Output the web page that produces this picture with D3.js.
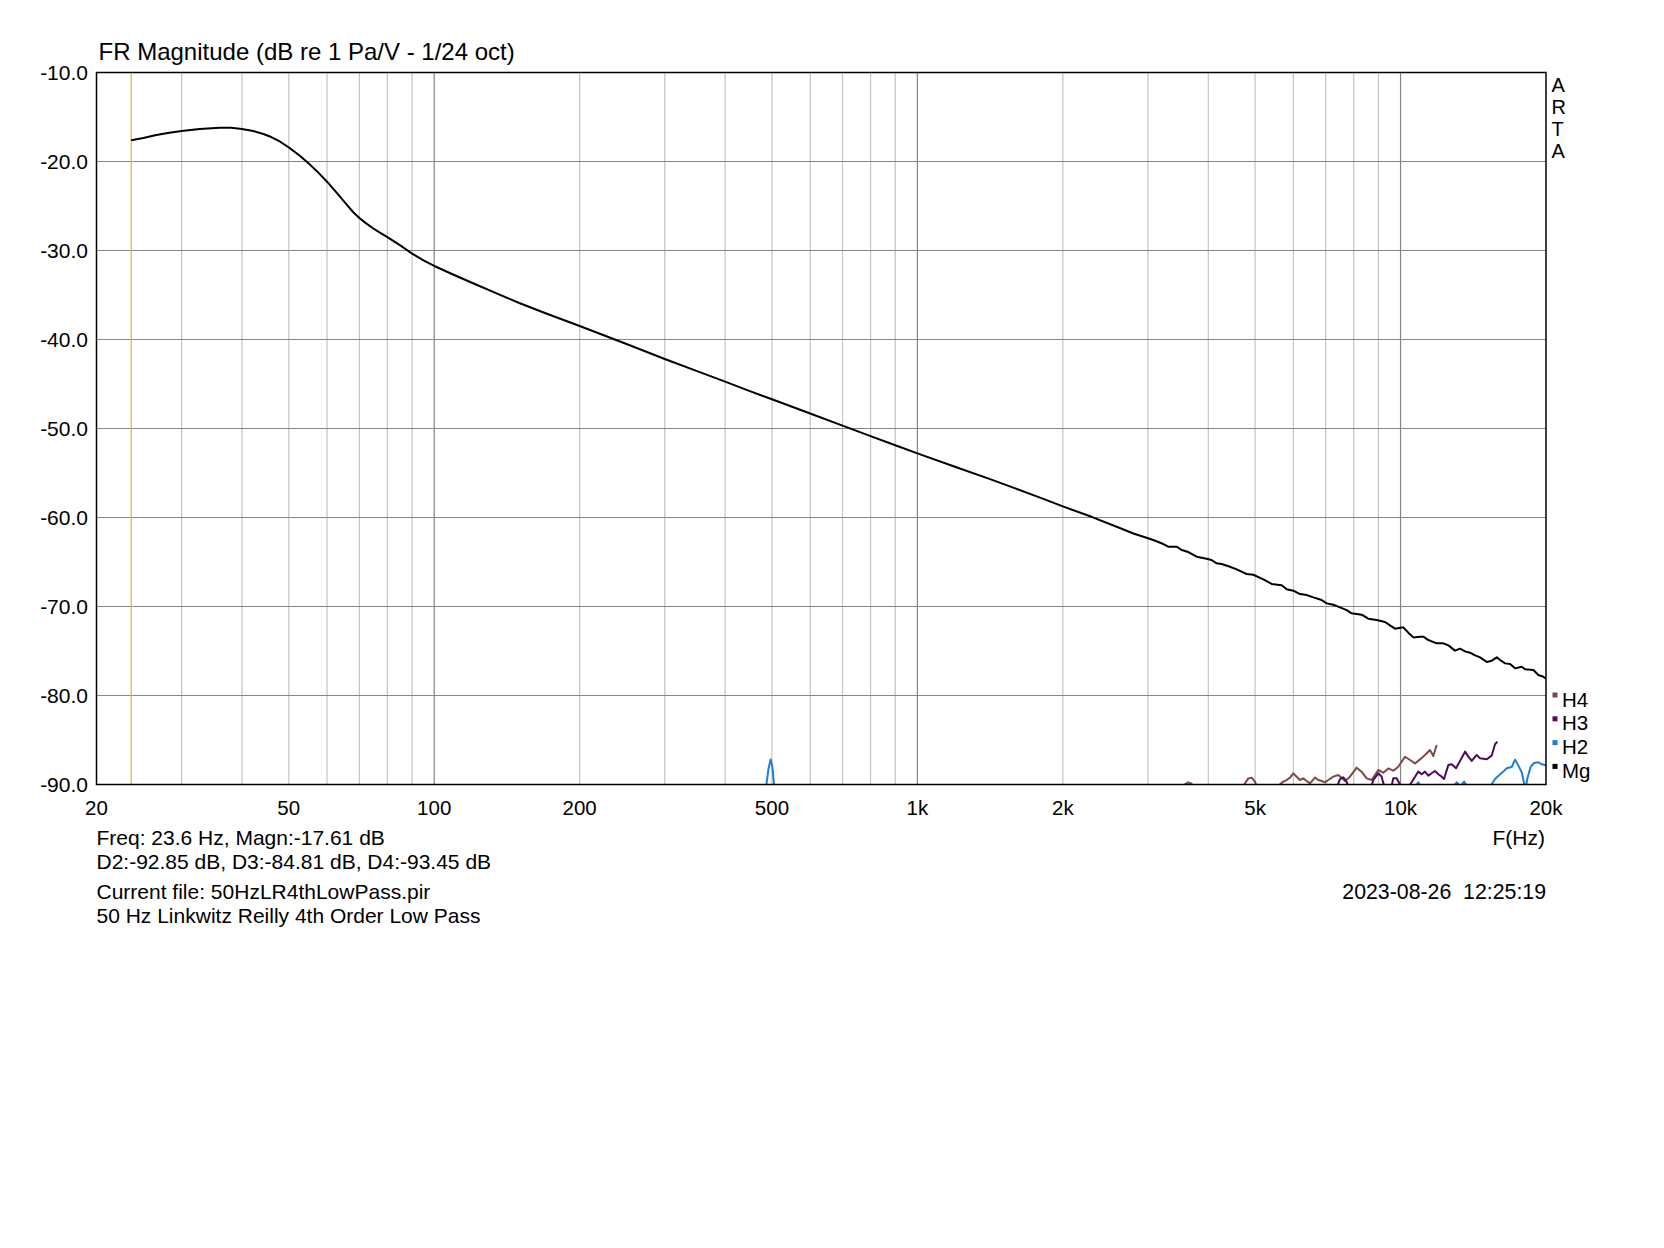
<!DOCTYPE html>
<html>
<head>
<meta charset="utf-8">
<script src="https://cdn.jsdelivr.net/npm/d3@7"></script>
<style>
  html, body { margin: 0; padding: 0; background: #ffffff; }
  svg text { font-family: "Liberation Sans", Arial, sans-serif; fill: #000; }
</style>
</head>
<body>
<svg id="chart" width="1664" height="1248"></svg>
<script>
// ---------- DATA ----------
const titleText = "FR Magnitude (dB re 1 Pa/V - 1/24 oct)";
const yTicks = [-10, -20, -30, -40, -50, -60, -70, -80, -90];
const xTickValues = [20, 50, 100, 200, 500, 1000, 2000, 5000, 10000, 20000];
const xTickLabels = ["20", "50", "100", "200", "500", "1k", "2k", "5k", "10k", "20k"];
const minorGrid = [30, 40, 50, 60, 70, 80, 90, 200, 300, 400, 500, 600, 700, 800, 900,
                   2000, 3000, 4000, 5000, 6000, 7000, 8000, 9000];
const majorGrid = [100, 1000, 10000];
const cursorFreq = 23.6;
const legendNames = ["H4", "H3", "H2", "Mg"];
const legendColors = ["#7a4a4a", "#4e0c52", "#1f7fd6", "#000000"];
const brandLetters = ["A", "R", "T", "A"];
const infoLines = [
  "Freq: 23.6 Hz, Magn:-17.61 dB",
  "D2:-92.85 dB, D3:-84.81 dB, D4:-93.45 dB",
  "Current file: 50HzLR4thLowPass.pir",
  "50 Hz Linkwitz Reilly 4th Order Low Pass"
];
const dateText = "2023-08-26  12:25:19";
const xAxisName = "F(Hz)";

// Magnitude [Hz, dB]
const mgData = [
  [23.6,-17.61],[25,-17.35],[26.6,-17.02],[28.3,-16.78],[30,-16.57],[32.7,-16.35],[36,-16.2],
  [38,-16.2],[40,-16.35],[42.2,-16.57],[44.3,-16.91],[46,-17.25],[47.9,-17.75],[50,-18.41],
  [52.7,-19.35],[55.3,-20.35],[57.7,-21.3],[60,-22.27],[62.8,-23.5],[65.9,-24.85],[68,-25.7],
  [70,-26.35],[72.3,-26.95],[74.7,-27.5],[77.2,-28.0],[80,-28.5],[84.9,-29.4],[90,-30.35],
  [95,-31.1],[100,-31.74],[110,-32.75],[120,-33.65],[135,-34.85],[150,-35.9],[170,-37.05],
  [200,-38.48],[250,-40.5],[300,-42.19],[350,-43.55],[400,-44.74],[450,-45.8],[500,-46.72],
  [600,-48.32],[700,-49.68],[800,-50.85],[900,-51.88],[1000,-52.8],[1200,-54.32],[1400,-55.6],
  [1600,-56.75],[1800,-57.8],[2000,-58.75],[2300,-59.95],[2600,-61.1],[2800,-61.8],
  [3078,-62.53],[3228,-62.98],[3306,-63.28],[3440,-63.28],[3523,-63.65],[3637,-63.88],
  [3784,-64.4],[3968,-64.63],[4064,-64.78],[4163,-65.15],[4263,-65.23],[4436,-65.53],
  [4579,-65.83],[4802,-66.35],[4958,-66.43],[5200,-66.95],[5410,-67.47],[5676,-67.62],
  [5812,-68.07],[5999,-68.22],[6192,-68.6],[6392,-68.71],[6599,-68.97],[6866,-69.27],
  [7032,-69.65],[7258,-69.8],[7493,-70.1],[7735,-70.4],[7920,-70.77],[8307,-70.92],
  [8576,-71.37],[8924,-71.52],[9286,-71.74],[9510,-72.12],[9738,-72.49],[10134,-72.34],
  [10376,-72.94],[10628,-73.47],[10971,-73.39],[11147,-73.39],[11415,-73.77],[11879,-74.14],
  [12262,-74.14],[12561,-74.37],[12964,-74.96],[13276,-74.74],[13598,-75.04],[13926,-75.19],
  [14260,-75.49],[14606,-75.71],[15080,-76.24],[15444,-76.09],[15816,-75.71],[16070,-76.01],
  [16457,-76.39],[16854,-76.46],[17260,-76.95],[17816,-76.76],[18102,-77.06],[18836,-77.14],
  [19288,-77.7],[19748,-77.89],[20000,-78.11]
];

// 2nd harmonic [Hz, dB]
const h2Data = [
  [400,-98],[470,-95],[487,-90],[492,-88.2],[497,-87.2],[501,-88.0],[505,-90],[520,-95],
  [600,-99],[1000,-100],[3000,-99],[8000,-95],[10300,-91.5],[10700,-90.3],[10882,-89.75],
  [11050,-90.4],[12000,-92],[12800,-90.4],[13065,-89.75],[13300,-90.2],[13535,-89.68],
  [13800,-90.4],[14500,-91.5],[15200,-90.6],[15438,-89.98],[15686,-89.38],[16014,-88.93],
  [16323,-88.55],[16584,-88.18],[16984,-88.03],[17260,-87.21],[17536,-87.88],[17816,-88.63],
  [18016,-89.86],[18130,-90.6],[18304,-89.3],[18597,-87.99],[18895,-87.58],[19288,-87.5],
  [19597,-87.73],[19905,-87.8],[20000,-87.9]
];

// 3rd harmonic [Hz, dB]
const h3Data = [
  [3000,-97],[6000,-94],[7300,-91],[7493,-89.4],[7613,-89.2],[7735,-89.7],[7850,-90.8],
  [8300,-92],[8600,-91],[8785,-89.49],[8996,-88.74],[9138,-89.12],[9212,-89.86],[9400,-91],
  [9580,-90.2],[9662,-89.3],[9817,-89.3],[9942,-89.86],[10200,-90.8],[10544,-89.75],
  [10882,-88.55],[11057,-88.85],[11234,-88.55],[11415,-89.0],[11598,-88.74],[11784,-88.48],
  [11972,-88.85],[12165,-89.12],[12302,-89.38],[12561,-87.8],[12760,-87.73],[13027,-88.18],
  [13276,-87.35],[13598,-86.31],[13816,-86.87],[14036,-87.35],[14373,-86.68],[14606,-87.06],
  [15080,-87.17],[15438,-86.76],[15686,-85.48],[15864,-85.18]
];

// 4th harmonic [Hz, dB]
const h4Data = [
  [2500,-96],[3400,-91.5],[3578,-89.98],[3636,-89.76],[3694,-89.91],[3800,-91.5],[4500,-92],
  [4700,-90.5],[4765,-89.87],[4840,-89.31],[4918,-89.23],[4996,-89.68],[5100,-91],[5500,-91],
  [5630,-89.98],[5720,-89.68],[5812,-89.5],[5906,-89.23],[5999,-88.75],[6095,-89.12],
  [6192,-89.5],[6292,-89.31],[6392,-89.61],[6494,-89.87],[6650,-89.23],[6757,-89.5],
  [6866,-89.61],[6976,-89.76],[7088,-89.5],[7258,-89.12],[7432,-88.93],[7551,-89.23],
  [7672,-89.61],[7858,-89.12],[8112,-88.11],[8307,-88.56],[8508,-89.31],[8712,-89.5],
  [8994,-88.37],[9212,-88.67],[9434,-88.19],[9662,-88.45],[9894,-88.0],[10214,-86.88],
  [10461,-87.25],[10712,-87.63],[10971,-87.18],[11234,-86.69],[11506,-86.13],[11690,-86.8],
  [11879,-85.57]
];

// ---------- DRAW ----------
const svg = d3.select("#chart");
const L = 96.5, R = 1546, T = 72.5, B = 784.5;
const x = d3.scaleLog().domain([20, 20000]).range([L, R]);
const y = d3.scaleLinear().domain([-90, -10]).range([B, T]);

svg.append("rect").attr("width", 1664).attr("height", 1248).attr("fill", "#fff");

svg.append("defs").append("clipPath").attr("id", "plotclip")
  .append("rect").attr("x", L).attr("y", T).attr("width", R - L).attr("height", B - T);

// grid
const grid = svg.append("g");
grid.selectAll("line.minor").data(minorGrid).join("line")
  .attr("x1", d => x(d)).attr("x2", d => x(d)).attr("y1", T).attr("y2", B)
  .attr("stroke", "#c4c4c4").attr("stroke-width", 1.2);
grid.selectAll("line.major").data(majorGrid).join("line")
  .attr("x1", d => x(d)).attr("x2", d => x(d)).attr("y1", T).attr("y2", B)
  .attr("stroke", "#858585").attr("stroke-width", 1.2);
grid.selectAll("line.h").data(yTicks.slice(1, -1)).join("line")
  .attr("x1", L).attr("x2", R).attr("y1", d => y(d)).attr("y2", d => y(d))
  .attr("stroke", "#858585").attr("stroke-width", 1.2);

// cursor
svg.append("line")
  .attr("x1", x(cursorFreq)).attr("x2", x(cursorFreq)).attr("y1", T).attr("y2", B)
  .attr("stroke", "#d8bc50").attr("stroke-width", 1.3);

// curves
const line = d3.line().x(d => x(d[0])).y(d => y(d[1]));
const plot = svg.append("g").attr("clip-path", "url(#plotclip)");
const series = [
  { data: h4Data, color: legendColors[0] },
  { data: h3Data, color: legendColors[1] },
  { data: h2Data, color: legendColors[2] },
  { data: mgData, color: legendColors[3] }
];
series.forEach(s => {
  plot.append("path").attr("d", line(s.data)).attr("fill", "none")
    .attr("stroke", s.color).attr("stroke-width", 2).attr("stroke-linejoin", "round");
});

// frame
svg.append("rect").attr("x", L).attr("y", T).attr("width", R - L).attr("height", B - T)
  .attr("fill", "none").attr("stroke", "#000").attr("stroke-width", 1.5);

// y labels
svg.selectAll("text.ytick").data(yTicks).join("text")
  .attr("x", 88).attr("y", d => y(d) + 7.5)
  .attr("text-anchor", "end").attr("font-size", 21)
  .text(d => d.toFixed(1));

// x labels
svg.selectAll("text.xtick").data(xTickValues).join("text")
  .attr("x", d => x(d)).attr("y", 815)
  .attr("text-anchor", "middle").attr("font-size", 20.5)
  .text((d, i) => xTickLabels[i]);

// title
svg.append("text").attr("x", 98.5).attr("y", 60).attr("font-size", 24).text(titleText);

// ARTA
svg.selectAll("text.brand").data(brandLetters).join("text")
  .attr("x", 1551.5).attr("y", (d, i) => 91.5 + i * 22)
  .attr("font-size", 20).text(d => d);

// legend
legendNames.forEach((n, i) => {
  const by = 706.5 + i * 23.8;
  svg.append("rect").attr("x", 1552.5).attr("y", by - 14).attr("width", 5).attr("height", 5)
    .attr("fill", legendColors[i]);
  svg.append("text").attr("x", 1562).attr("y", by).attr("font-size", 20.5).text(n);
});

// x axis name
svg.append("text").attr("x", 1545).attr("y", 845).attr("text-anchor", "end")
  .attr("font-size", 21).text(xAxisName);

// info lines
const infoY = [845, 869, 899, 923];
infoLines.forEach((t, i) => {
  svg.append("text").attr("x", 96.5).attr("y", infoY[i]).attr("font-size", 21).text(t);
});
svg.append("text").attr("x", 1546).attr("y", 899).attr("text-anchor", "end")
  .attr("font-size", 21.3).style("white-space", "pre").text(dateText);
</script>
</body>
</html>
